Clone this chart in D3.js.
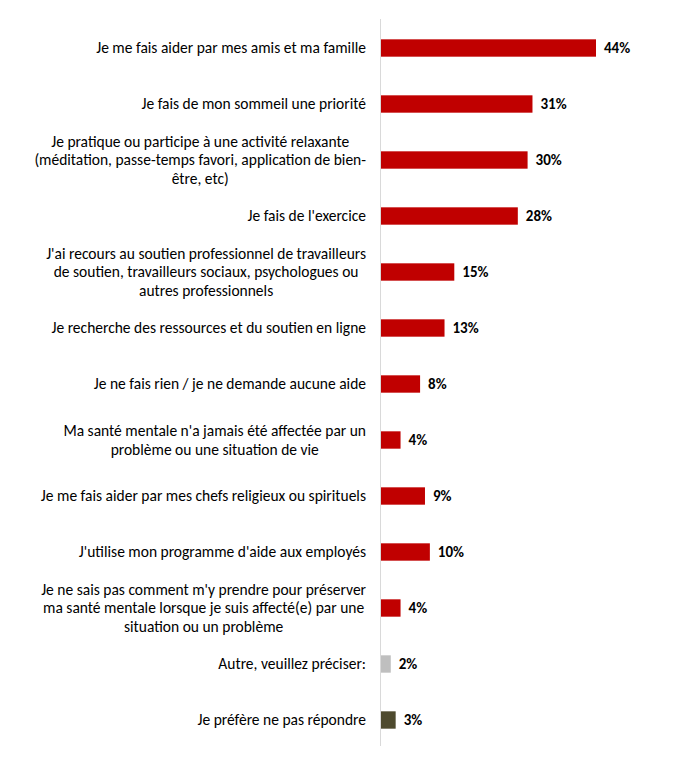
<!DOCTYPE html>
<html><head><meta charset="utf-8">
<script src="https://cdn.jsdelivr.net/npm/d3@7"></script>
<style>body{margin:0;background:#fff}svg text{font-family:Carlito,Lato,"Open Sans",sans-serif}</style>
</head><body>
<svg id="c" width="693" height="768"></svg>
<script>
const categories = [
  ["Je me fais aider par mes amis et ma famille"],
  ["Je fais de mon sommeil une priorité"],
  ["Je pratique ou participe à une activité relaxante","(méditation, passe-temps favori, application de bien-","être, etc)"],
  ["Je fais de l'exercice"],
  ["J'ai recours au soutien professionnel de travailleurs","de soutien, travailleurs sociaux, psychologues ou","autres professionnels"],
  ["Je recherche des ressources et du soutien en ligne"],
  ["Je ne fais rien / je ne demande aucune aide"],
  ["Ma santé mentale n'a jamais été affectée par un","problème ou une situation de vie"],
  ["Je me fais aider par mes chefs religieux ou spirituels"],
  ["J'utilise mon programme d'aide aux employés"],
  ["Je ne sais pas comment m'y prendre pour préserver","ma santé mentale lorsque je suis affecté(e) par une","situation ou un problème"],
  ["Autre, veuillez préciser:"],
  ["Je préfère ne pas répondre"]
];
const values = [44,31,30,28,15,13,8,4,9,10,4,2,3];
const colors = ["#C00000","#C00000","#C00000","#C00000","#C00000","#C00000","#C00000","#C00000","#C00000","#C00000","#C00000","#BFBFBF","#4E4A2E"];

const svg = d3.select("#c");
const idx = d3.range(values.length);
const y = d3.scaleBand().domain(idx).range([20, 748]).paddingInner(0.69).paddingOuter(0.345);
const x = d3.scaleLinear().domain([0, 44]).range([381, 596]);

svg.append("line").attr("x1",380.5).attr("x2",380.5).attr("y1",19).attr("y2",746)
  .attr("stroke","#D9D9D9").attr("stroke-width",1);

svg.selectAll("rect.bar").data(idx).join("rect").attr("class","bar")
  .attr("x", x(0)).attr("y", d=>y(d)).attr("height", y.bandwidth())
  .attr("width", d=>x(values[d])-x(0)).attr("fill", d=>colors[d]);

svg.selectAll("text.val").data(idx).join("text").attr("class","val")
  .attr("x", d=>x(values[d])+8).attr("y", d=>y(d)+y.bandwidth()/2)
  .attr("dy","0.35em").attr("font-size",15).attr("font-weight","bold").attr("fill","#000")
  .text(d=>values[d]+"%");

const lh = 18.8, right = 366;
idx.forEach(d=>{
  const lines = categories[d];
  const cy = y(d)+y.bandwidth()/2;
  const g = svg.append("g");
  const ts = lines.map((l,i)=>g.append("text").attr("font-size",15.5).attr("fill","#000")
    .attr("y", cy + (i-(lines.length-1)/2)*lh).attr("dy","0.35em").attr("text-anchor","middle").text(l));
  const maxW = d3.max(ts, t=>t.node().getComputedTextLength());
  ts.forEach(t=>t.attr("x", right - maxW/2));
});
</script>
</body></html>
